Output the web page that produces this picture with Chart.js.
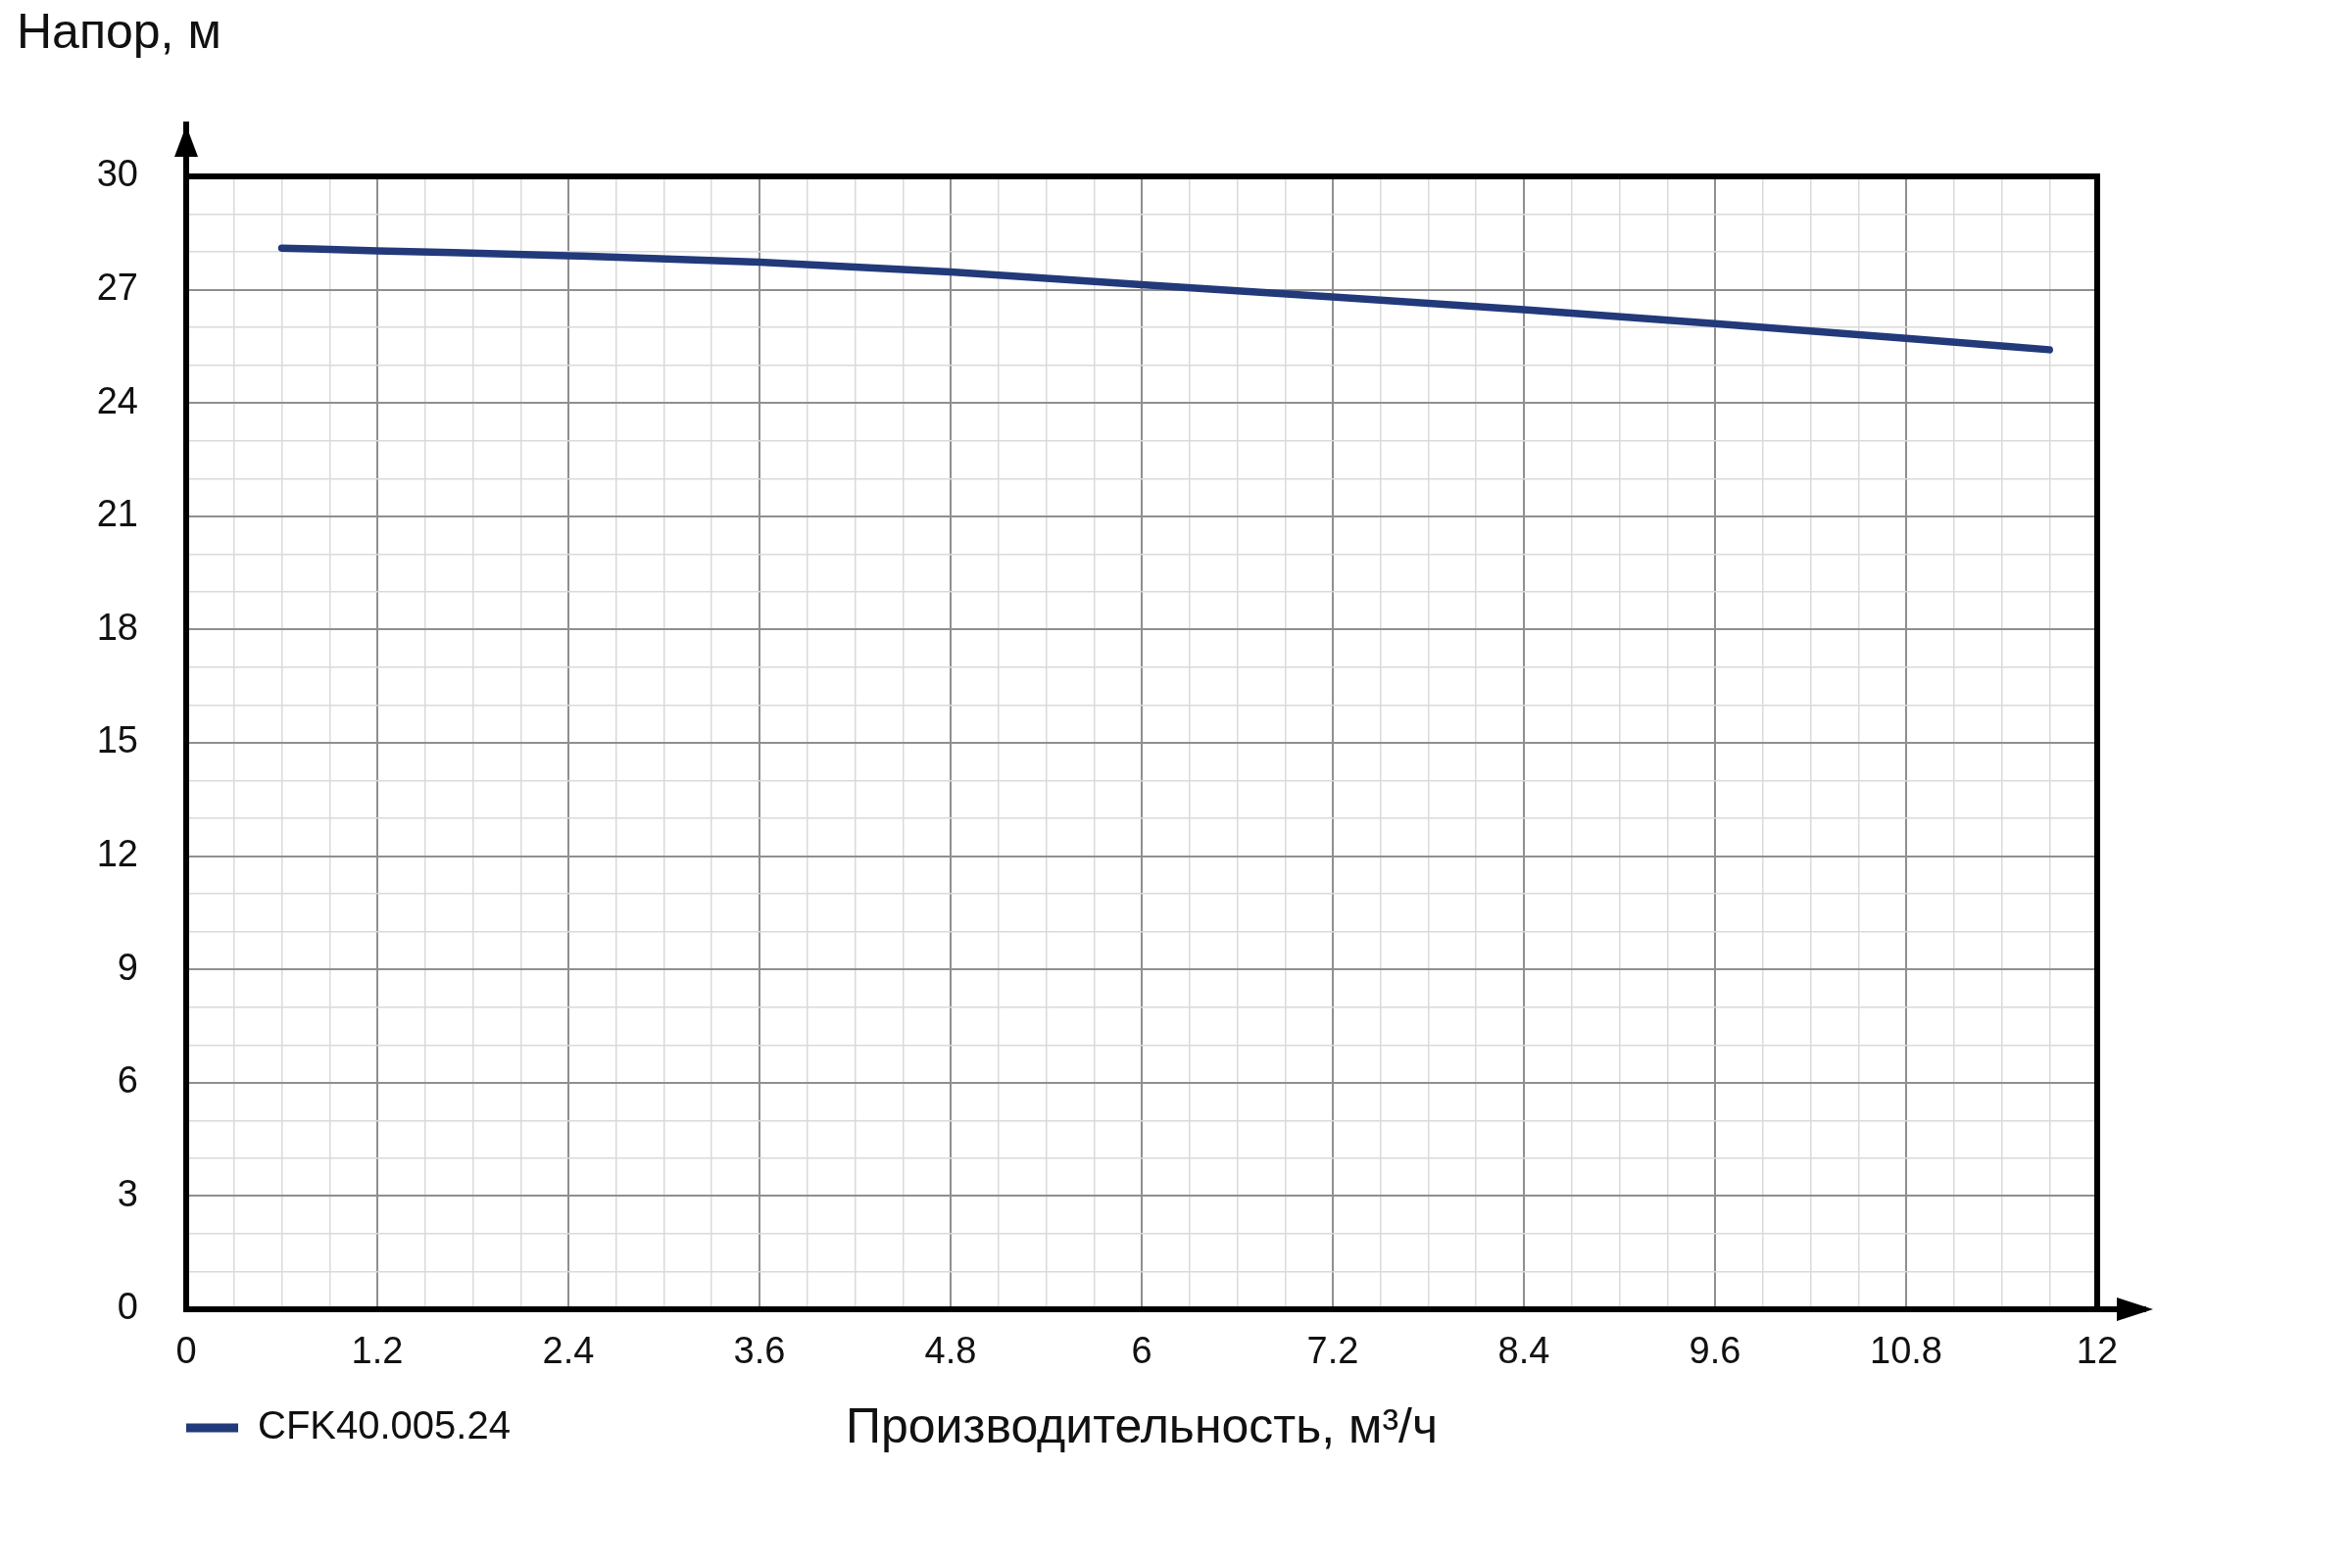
<!DOCTYPE html>
<html>
<head>
<meta charset="utf-8">
<script src="https://cdn.jsdelivr.net/npm/chart.js@4.4.1/dist/chart.umd.min.js"></script>
<style>
  html, body { margin: 0; padding: 0; background: #fff; }
  canvas { display: block; }
</style>
</head>
<body>
<canvas id="pumpChart" width="2400" height="1600"></canvas>
<script>
// pump curve
const flow = [0.6, 1.2, 2.4, 3.6, 4.8, 6.0, 7.2, 8.4, 9.6, 10.8, 11.7]
const head = [28.1, 28.03, 27.9, 27.73, 27.47, 27.13, 26.81, 26.47, 26.1, 25.71, 25.41]
const seriesName = 'CFK40.005.24'
const yTitle = 'Напор, м'
const xTitle = 'Производительность, м³/ч'

const FONT = 'Liberation Sans, Arial, sans-serif'
const LINE_COLOR = '#22397a'

const isMult = (v, step) => Math.abs(v / step - Math.round(v / step)) < 1e-6

// frame around the plot + arrows on the axes
const framePlugin = {
  id: 'frame',
  afterDatasetsDraw (chart) {
    const { ctx, chartArea: a } = chart
    ctx.save()
    ctx.strokeStyle = '#000'
    ctx.fillStyle = '#000'
    ctx.lineWidth = 6
    ctx.strokeRect(a.left, a.top, a.right - a.left, a.bottom - a.top)
    // y axis arrow
    ctx.beginPath()
    ctx.moveTo(a.left, a.bottom)
    ctx.lineTo(a.left, a.top - 56)
    ctx.stroke()
    ctx.beginPath()
    ctx.moveTo(a.left, a.top - 52)
    ctx.lineTo(a.left - 12, a.top - 20)
    ctx.lineTo(a.left + 12, a.top - 20)
    ctx.closePath()
    ctx.fill()
    // x axis arrow
    ctx.beginPath()
    ctx.moveTo(a.left, a.bottom)
    ctx.lineTo(a.right + 50, a.bottom)
    ctx.stroke()
    ctx.beginPath()
    ctx.moveTo(a.right + 57, a.bottom)
    ctx.lineTo(a.right + 20, a.bottom - 12)
    ctx.lineTo(a.right + 20, a.bottom + 12)
    ctx.closePath()
    ctx.fill()
    ctx.restore()
  }
}

const gridColor = (step) => (c) => isMult(c.tick.value, step) ? '#8f8f8f' : '#dadada'
const gridWidth = (step) => (c) => isMult(c.tick.value, step) ? 2 : 1.5

const points = flow.map((q, i) => ({ x: q, y: head[i] }))

new Chart(document.getElementById('pumpChart'), {
  type: 'line',
  data: {
    datasets: [{
      label: seriesName,
      data: points,
      borderColor: LINE_COLOR,
      backgroundColor: LINE_COLOR,
      borderWidth: 7.5,
      borderCapStyle: 'round',
      cubicInterpolationMode: 'monotone',
      pointRadius: 0,
      fill: false
    }]
  },
  options: {
    responsive: false,
    devicePixelRatio: 1,
    animation: false,
    layout: { padding: { left: 17, top: 0, right: 260, bottom: 113 } },
    plugins: {
      tooltip: { enabled: false },
      title: {
        display: true,
        text: yTitle,
        align: 'start',
        color: '#111',
        font: { family: FONT, size: 50, weight: 'normal' },
        padding: { top: 5, bottom: 115 }
      },
      legend: {
        position: 'bottom',
        align: 'start',
        fullSize: false,
        labels: {
          color: '#111',
          font: { family: FONT, size: 40 },
          boxWidth: 53,
          boxHeight: 9,
          padding: 0,
          generateLabels (chart) {
            return Chart.defaults.plugins.legend.labels.generateLabels(chart)
              .map(l => ({ ...l, lineWidth: 0 }))
          }
        }
      }
    },
    scales: {
      x: {
        type: 'linear',
        min: 0,
        max: 12,
        afterFit (scale) { scale.height = 101 },
        border: { display: false },
        grid: { color: gridColor(1.2), lineWidth: gridWidth(1.2), drawTicks: false },
        ticks: {
          stepSize: 0.3,
          autoSkip: false,
          maxRotation: 0,
          padding: 22,
          color: '#111',
          font: { family: FONT, size: 38 },
          callback: (v) => isMult(v, 1.2) ? String(+v.toFixed(1)) : ''
        },
        title: {
          display: true,
          text: xTitle,
          color: '#111',
          font: { family: FONT, size: 50 },
          padding: { top: 0, bottom: -51 }
        }
      },
      y: {
        min: 0,
        max: 30,
        afterFit (scale) { scale.width = 173 },
        border: { display: false },
        grid: { color: gridColor(3), lineWidth: gridWidth(3), drawTicks: false },
        ticks: {
          stepSize: 1,
          autoSkip: false,
          padding: 49,
          color: '#111',
          font: { family: FONT, size: 38 },
          callback: (v) => isMult(v, 3) ? String(v) : ''
        }
      }
    }
  },
  plugins: [framePlugin]
})
</script>
</body>
</html>
